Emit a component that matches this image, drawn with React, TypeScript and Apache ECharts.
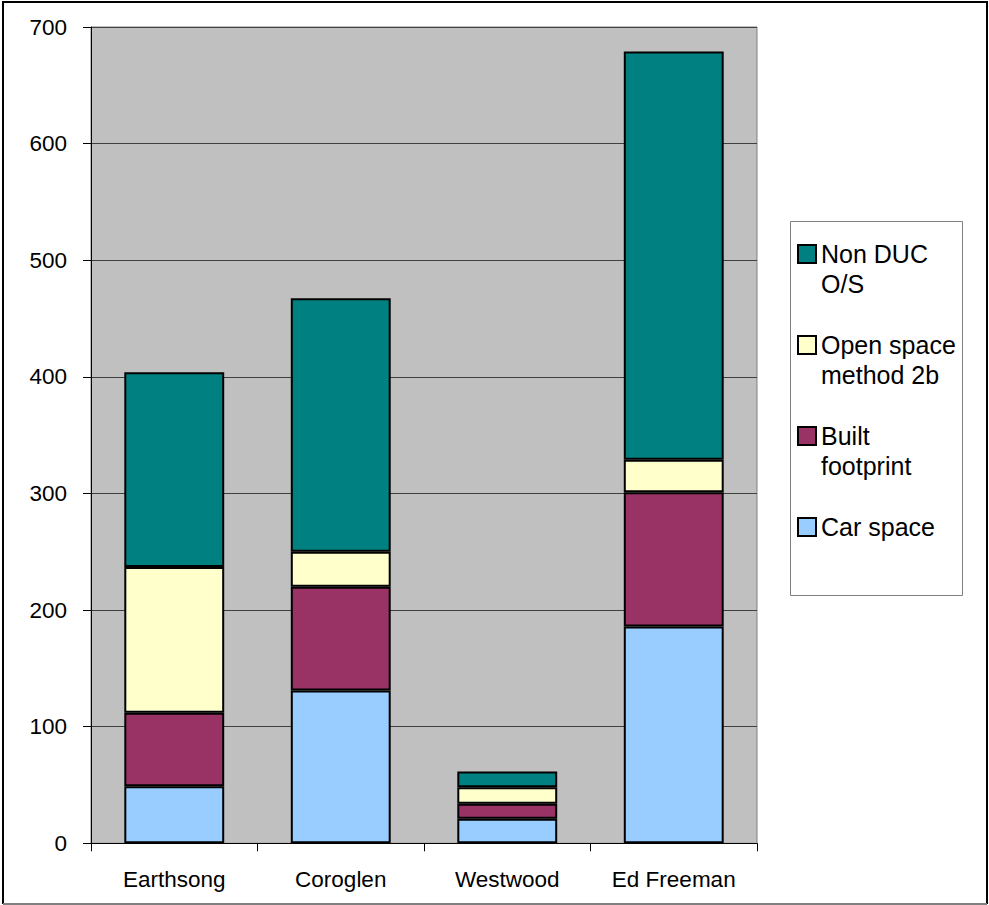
import React, { useEffect, useRef } from "react";
import * as echarts from "echarts";

const categories = ["Earthsong", "Coroglen", "Westwood", "Ed Freeman"];
const seriesNames = ["Car space", "Built footprint", "Open space method 2b", "Non DUC O/S"];
const carSpace = [49, 131, 21, 186];
const builtFootprint = [63, 89, 13, 115];
const openSpace = [125, 30, 14, 28];
const nonDuc = [167, 217.5, 13.5, 350];
const seriesColors = ["#99CCFF", "#993366", "#FFFFCC", "#008080"];
const legendOrder = ["Non DUC O/S", "Open space method 2b", "Built footprint", "Car space"];
const legendLabels: Record<string, string> = {
  "Non DUC O/S": " \nNon DUC\nO/S",
  "Open space method 2b": " \nOpen space\nmethod 2b",
  "Built footprint": " \nBuilt\nfootprint",
  "Car space": " \nCar space\n ",
};

const FONT = '"Liberation Sans", Arial, sans-serif';

export default function App() {
  const ref = useRef<HTMLDivElement>(null);
  useEffect(() => {
    if (!ref.current) return;
    const chart = echarts.init(ref.current, null, { renderer: "svg" });
    const values = [carSpace, builtFootprint, openSpace, nonDuc];
    chart.setOption({
      animation: false,
      backgroundColor: "#ffffff",
      textStyle: { fontFamily: FONT },
      grid: {
        left: 91,
        top: 27,
        right: 232,
        bottom: 61.7,
        show: true,
        backgroundColor: "#C0C0C0",
        borderColor: "#808080",
        borderWidth: 1,
      },
      graphic: [
        {
          type: "polyline",
          z: 0,
          shape: { points: [[3, 904], [3, 2], [987, 2], [987, 904]] },
          style: { fill: "none", stroke: "#000", lineWidth: 2 },
        },
        {
          type: "line",
          z: 0,
          shape: { x1: 3, y1: 904, x2: 987, y2: 904 },
          style: { stroke: "#808080", lineWidth: 2 },
        },
        {
          type: "rect",
          z: 0,
          shape: { x: 790.5, y: 221.5, width: 172, height: 374 },
          style: { fill: "#fff", stroke: "#808080", lineWidth: 1 },
        },
      ],
      legend: {
        z: 10,
        orient: "vertical",
        left: 797,
        top: 209,
        padding: 0,
        itemWidth: 18,
        itemHeight: 18,
        itemGap: 1,
        icon: "rect",
        data: legendOrder,
        formatter: (name: string) => legendLabels[name] || name,
        textStyle: { fontSize: 25, lineHeight: 30, color: "#000", fontFamily: FONT },
      },
      xAxis: {
        type: "category",
        data: categories,
        boundaryGap: true,
        axisLine: { show: true, lineStyle: { color: "#000", width: 1 } },
        axisTick: { show: true, length: 8, alignWithLabel: false, lineStyle: { color: "#000" } },
        axisLabel: { fontSize: 22.5, color: "#000", margin: 25, fontFamily: FONT },
        splitLine: { show: false },
      },
      yAxis: {
        type: "value",
        min: 0,
        max: 700,
        interval: 100,
        axisLine: { show: true, lineStyle: { color: "#000", width: 1 } },
        axisTick: { show: true, length: 8, lineStyle: { color: "#000" } },
        axisLabel: { fontSize: 22.5, color: "#000", margin: 24, fontFamily: FONT },
        splitLine: { show: true, lineStyle: { color: "#404040", width: 1 } },
      },
      series: seriesNames.map((name, i) => ({
        name,
        type: "bar",
        stack: "total",
        barWidth: "60%",
        data: values[i],
        itemStyle: { color: seriesColors[i], borderColor: "#000", borderWidth: 2 },
      })),
    });
    return () => chart.dispose();
  }, []);
  return (
    <div
      ref={ref}
      style={{ position: "fixed", left: 0, top: 0, width: 989, height: 905 }}
    />
  );
}
